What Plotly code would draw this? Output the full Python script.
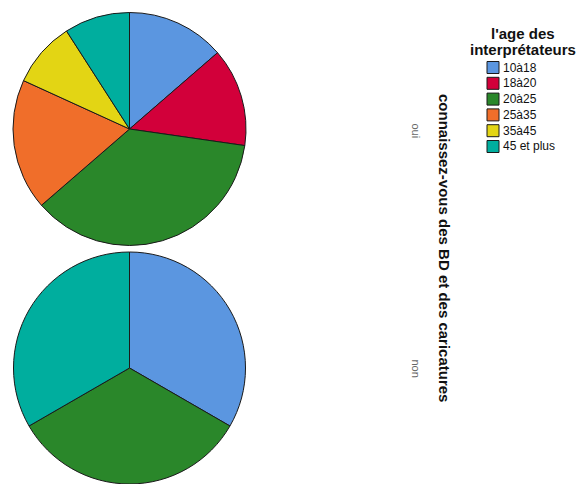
import plotly.graph_objects as go

# Age groups of the interpreters and their colours
age_groups = ["10à18", "18à20", "20à25", "25à35", "35à45", "45 et plus"]
group_colors = ["#5B96E0", "#D2003A", "#2A872A", "#F06E2A", "#E3D514", "#00AE9E"]

# Counts per age group for each answer to "connaissez-vous des BD et des caricatures"
counts_oui = [3, 3, 8, 4, 2, 2]
counts_non = [1, 0, 1, 0, 0, 1]

answers = ["oui", "non"]
series = [counts_oui, counts_non]

FONT = "Liberation Sans, Arial, sans-serif"
W, H = 576, 484

fig = go.Figure()

# Pie cells, one per answer, stacked vertically
domains_y = [[1 - 246 / H, 1 - 12 / H], [0.0, 1 - 252 / H]]
for vals, dom in zip(series, domains_y):
    labs = [g for g, v in zip(age_groups, vals) if v > 0]
    cols = [c for c, v in zip(group_colors, vals) if v > 0]
    vv = [v for v in vals if v > 0]
    fig.add_trace(go.Pie(
        labels=labs, values=vv,
        marker=dict(colors=cols, line=dict(color="#1a1a1a", width=1)),
        sort=False, direction="clockwise", rotation=0,
        textinfo="none", hoverinfo="label+value+percent",
        domain=dict(x=[13 / W, 246 / W], y=dom),
        showlegend=False,
    ))

annotations = []
shapes = []

# Row labels for each pie
for ans, yc in zip(answers, [131, 368]):
    annotations.append(dict(
        x=415.5 / W, y=1 - yc / H, xref="paper", yref="paper",
        text=ans, textangle=90, showarrow=False,
        font=dict(family=FONT, size=11, color="#666666"),
        xanchor="center", yanchor="middle",
    ))

# Row variable title
annotations.append(dict(
    x=444 / W, y=1 - 248 / H, xref="paper", yref="paper",
    text="<b>connaissez-vous des BD et des caricatures</b>", textangle=90,
    showarrow=False, font=dict(family=FONT, size=15, color="#111111"),
    xanchor="center", yanchor="middle",
))

# Legend title, two closely spaced lines
for line, yc in zip(["l'age des", "interprétateurs"], [33.5, 49.5]):
    annotations.append(dict(
        x=523 / W, y=1 - yc / H, xref="paper", yref="paper",
        text="<b>" + line + "</b>", showarrow=False, align="center",
        font=dict(family=FONT, size=15, color="#111111"),
        xanchor="center", yanchor="middle",
    ))

# Legend entries
row0, step = 67.5, 15.8
for i, (g, c) in enumerate(zip(age_groups, group_colors)):
    yc = row0 + i * step
    shapes.append(dict(
        type="rect", xref="paper", yref="paper",
        x0=487 / W, x1=499 / W, y0=1 - (yc + 6) / H, y1=1 - (yc - 6) / H,
        fillcolor=c, line=dict(color="#1a1a1a", width=1),
    ))
    annotations.append(dict(
        x=501 / W, y=1 - yc / H, xref="paper", yref="paper",
        text=g, showarrow=False,
        font=dict(family=FONT, size=12, color="#111111"),
        xanchor="left", yanchor="middle",
    ))

fig.update_layout(
    width=W, height=H,
    margin=dict(l=0, r=0, t=0, b=0),
    paper_bgcolor="white", plot_bgcolor="white",
    annotations=annotations, shapes=shapes,
    showlegend=False,
)

fig.write_html("out.html")
